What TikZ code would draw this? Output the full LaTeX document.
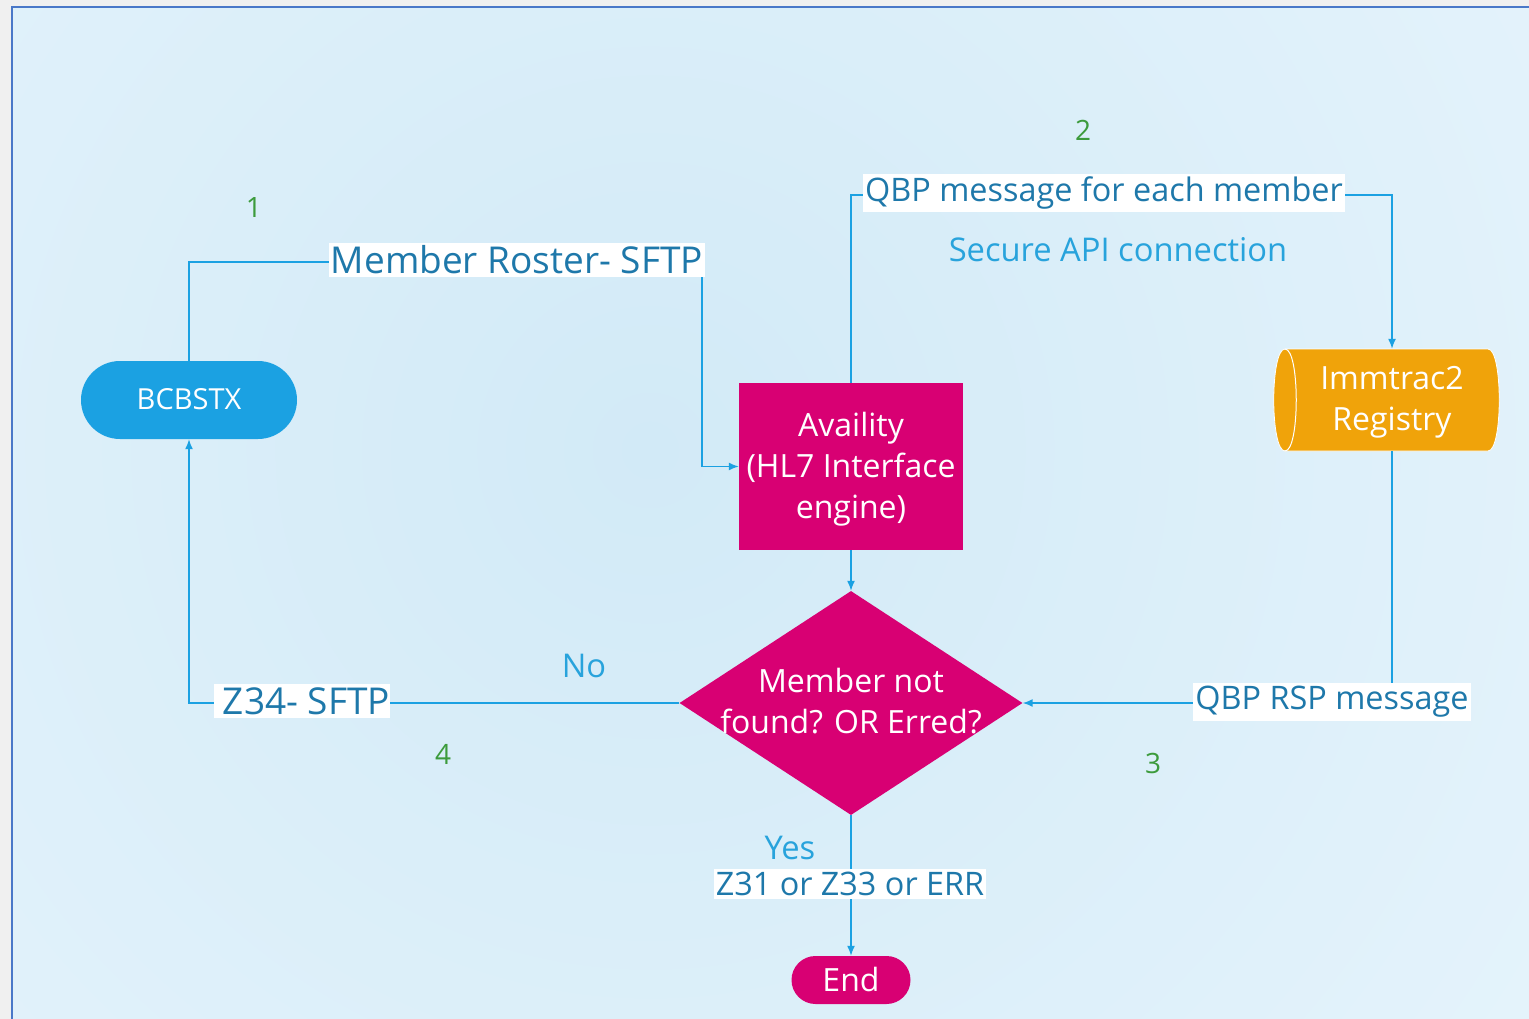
\documentclass[tikz,border=0pt]{standalone}
\usepackage{fontspec}
\setmainfont{Open Sans}
\usetikzlibrary{arrows.meta,shapes.geometric}
\definecolor{bgin}{RGB}{210,234,247}
\definecolor{bgout}{RGB}{236,247,253}
\definecolor{frame}{RGB}{74,120,200}
\definecolor{pagegray}{RGB}{240,240,240}
\definecolor{cblue}{RGB}{27,161,226}
\definecolor{mag}{RGB}{216,0,115}
\definecolor{orng}{RGB}{240,163,10}
\definecolor{labtxt}{RGB}{30,120,170}
\definecolor{lbl}{RGB}{40,163,220}
\definecolor{num}{RGB}{60,155,60}
\tikzset{
  conn/.style={draw=cblue, line width=1.5pt},
  arr/.style={conn, -{Latex[length=10pt,width=8pt]}},
  lab/.style={fill=white, text=labtxt, inner xsep=2pt, inner ysep=3pt, font=\fontsize{32.4}{38}\selectfont},
  biglab/.style={lab, font=\fontsize{37}{44}\selectfont},
  plain/.style={text=lbl, font=\fontsize{32.7}{38}\selectfont},
  numtxt/.style={text=num, font=\fontsize{28}{34}\selectfont},
  shapetxt/.style={text=white, align=center, font=\fontsize{32}{41}\selectfont},
}
\begin{document}
\begin{tikzpicture}[x=1pt,y=-1pt]
\useasboundingbox (0,0) rectangle (1529,1019);
\fill[pagegray] (0,0) rectangle (1529,1019);
\begin{scope}
\clip (12,7) rectangle (1529,1019);
\shade[inner color=bgin, outer color=bgout] (650,450) circle (1500);
\end{scope}
\draw[frame, line width=2pt] (12,1019) -- (12,7) -- (1529,7);

% nodes
\node[fill=cblue, rounded corners=39pt, minimum width=216pt, minimum height=78pt, inner sep=0pt,
  text=white, font=\fontsize{29}{35}\selectfont] (bcb) at (189,400) {\raisebox{2pt}{BCBSTX}};
\node[fill=mag, minimum width=224pt, minimum height=167pt, inner sep=0pt] (avail) at (851,466.5) {};
\node[shapetxt] (availtxt) at (851,469) {Availity\\(HL7 Interface\\engine)};
\node[diamond, fill=mag, minimum width=343pt, minimum height=224pt, inner sep=0pt] (dec) at (851,703) {};
\node[shapetxt] (dectxt) at (851,701) {Member not\\found? OR Erred?};
\node[fill=mag, rounded corners=24pt, minimum width=119pt, minimum height=48pt, inner sep=0pt,
  text=white, font=\fontsize{32}{38}\selectfont] (end) at (851,980) {\raisebox{2pt}{End}};

% registry cylinder
\fill[orng, draw=white, line width=0.8pt] (1285,349) -- (1488,349)
  .. controls (1503,349) and (1503,451) .. (1488,451) -- (1285,451)
  .. controls (1270,451) and (1270,349) .. (1285,349) -- cycle;
\draw[white, line width=1pt] (1285,349) .. controls (1300,349) and (1300,451) .. (1285,451);
\node[minimum width=227pt, minimum height=102pt, inner sep=0pt] (reg) at (1392,400) {};
\node[shapetxt] (regtxt) at (1392,402) {Immtrac2\\Registry};

% connectors
\coordinate (c1) at (702,262);
\coordinate (c2) at (1392,195);
\draw[arr] (bcb.north) |- (c1) |- (avail.west);
\draw[arr] (avail.north) |- (c2) -- (reg.north);
\draw[arr] (reg.south) |- (dec.east);
\draw[arr] (dec.west) -| (bcb.south);
\draw[arr] (avail.south) -- (dec.north);
\draw[arr] (dec.south) -- (end.north);

% labels
\node[biglab] (l1) at (517,260) {Member Roster- SFTP};
\node[lab] (l2) at (1104,193) {QBP message for each member};
\node[lab] (l3) at (1332,702) {QBP RSP message};
\node[biglab, inner xsep=0pt] (l4) at (302,701) {\hspace{9pt}Z34- SFTP\hspace{2pt}};
\node[lab] (l5) at (850,884) {Z31 or Z33 or ERR};

\node[plain] (sec) at (1118,250) {Secure API connection};
\node[plain] (no) at (584,666) {No};
\node[plain] (yes) at (790,848) {Yes};

\node[numtxt] (n1) at (254,208) {1};
\node[numtxt] (n2) at (1083,130) {2};
\node[numtxt] (n3) at (1153,763) {3};
\node[numtxt] (n4) at (443,754) {4};
\end{tikzpicture}
\end{document}
